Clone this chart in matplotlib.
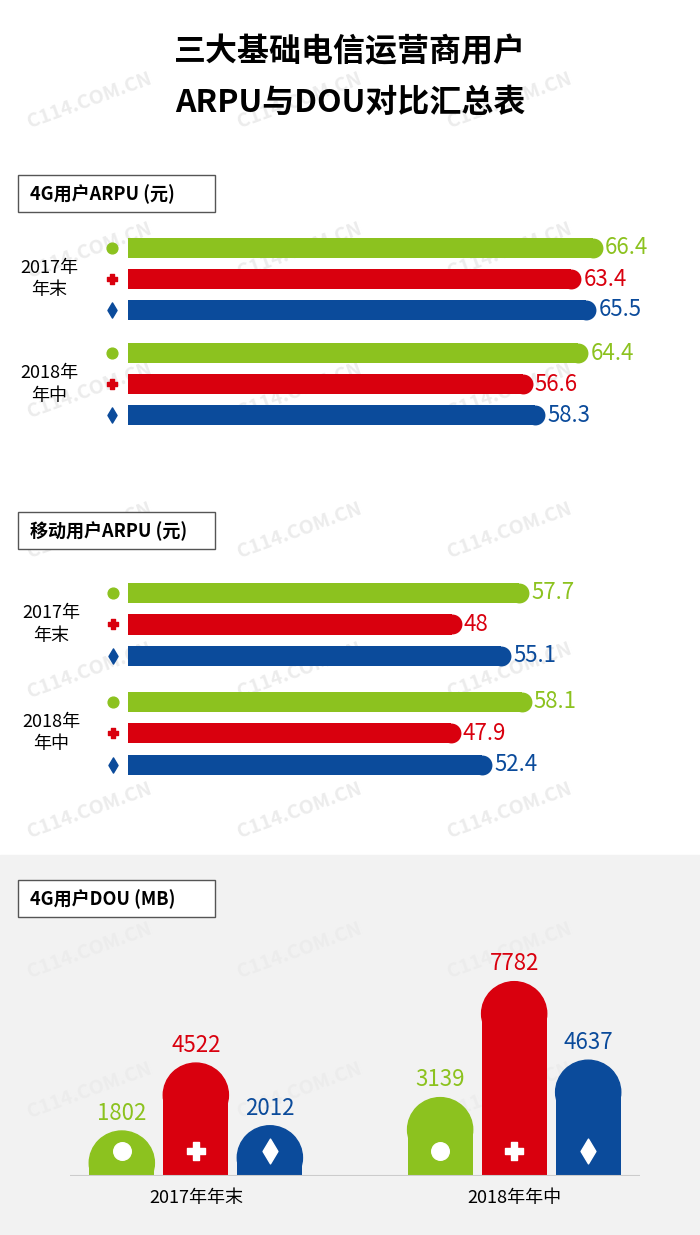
import matplotlib.pyplot as plt
from matplotlib.patches import Rectangle, Ellipse
import numpy as np

plt.rcParams['font.family'] = ['Noto Sans CJK SC', 'DejaVu Sans']

W, H = 700, 1235
green, red, blue = "#8cc21f", "#d9000e", "#0b4b9b"
colors = [green, red, blue]
markers = ["o", "P", "d"]

periods = ["2017年\n年末", "2018年\n年中"]
arpu_4g = [[66.4, 63.4, 65.5], [64.4, 56.6, 58.3]]
arpu_mobile = [[57.7, 48, 55.1], [58.1, 47.9, 52.4]]
dou_periods = ["2017年年末", "2018年年中"]
dou_4g = [[1802, 4522, 2012], [3139, 7782, 4637]]

fig = plt.figure(figsize=(W / 100, H / 100), dpi=100)


def fax(x0, y0, x1, y1):
    # pixel box -> axes
    return fig.add_axes([x0 / W, 1 - y1 / H, (x1 - x0) / W, (y1 - y0) / H])


# grey background of the DOU section
fig.patches.append(Rectangle((0, 0), 1, 1 - 855 / H, transform=fig.transFigure,
                             color="#f2f2f2", zorder=-5))

# watermarks
for yy in [100, 250, 390, 530, 670, 810, 950, 1090]:
    for xx in [90, 300, 510]:
        fig.text(xx / W, 1 - yy / H, "C114.COM.CN", rotation=20, fontsize=14,
                 color="#ececec", ha="center", va="center", zorder=-1,
                 fontweight="bold")

fig.text(0.5, 1 - 52 / H, "三大基础电信运营商用户", ha="center", va="center",
         fontsize=23, fontweight="bold")
fig.text(0.5, 1 - 103 / H, "ARPU与DOU对比汇总表", ha="center", va="center",
         fontsize=23, fontweight="bold")


def label_box(y0, text):
    fig.patches.append(Rectangle((18 / W, 1 - (y0 + 37) / H), 197 / W, 37 / H,
                                 transform=fig.transFigure, facecolor="white",
                                 edgecolor="#555555", lw=1))
    fig.text(30 / W, 1 - (y0 + 19) / H, text, va="center", fontsize=13,
             fontweight="bold")


def hbar_section(box, vals, gap, scale, y_first, spacing):
    ax = fax(*box)
    x0, y0, x1, y1 = box
    ax.set_xlim(0, (x1 - x0) / scale)
    top = (y0 - y_first) / spacing
    bot = (y1 - y_first) / spacing
    ax.set_ylim(bot, top)
    ax.axis("off")
    ax.axvline(-0.3, color="#dddddd", lw=1.5)
    r = 10 / scale
    for g, grp in enumerate(vals):
        for i, v in enumerate(grp):
            y = g * gap + i
            ax.barh(y, v - r, height=0.64, color=colors[i])
            ax.scatter(v - r, y, s=205, color=colors[i], zorder=3, linewidths=0)
            ax.text(v + 0.3, y, str(v), va="center", fontsize=16, color=colors[i])
            ax.scatter(-2.2, y, marker=markers[i], s=60, color=colors[i], clip_on=False)
        ax.text(-11, g * gap + 1, periods[g], va="center", ha="center",
                fontsize=13, linespacing=1.3)
    return ax


label_box(175, "4G用户ARPU (元)")
hbar_section((128, 228, 690, 470), arpu_4g, 3.4, 7.15, 248, 31)

label_box(512, "移动用户ARPU (元)")
hbar_section((128, 575, 690, 780), arpu_mobile, 3.45, 6.95, 593, 31.5)

label_box(880, "4G用户DOU (MB)")
ax = fax(70, 940, 640, 1176)
ax.set_xlim(-0.7, 7.0)
ax.set_ylim(0, 9450)
ax.axis("off")
ax.axhline(0, color="#cccccc", lw=1.5)
px_y = (1176 - 940) / 9450
r_y = 32 / px_y
w = 0.88
for g, grp in enumerate(dou_4g):
    for i, v in enumerate(grp):
        x = g * 4.3 + i
        body = max(v - r_y, 0)
        ax.bar(x, body, width=w, color=colors[i])
        ax.add_patch(Ellipse((x, body), w, 2 * r_y, color=colors[i]))
        ax.text(x, v + 250, str(v), ha="center", va="bottom", fontsize=16,
                color=colors[i])
        ax.scatter(x, 1000, marker=markers[i], s=160, color="white", zorder=4)
    ax.text(g * 4.3 + 1, -900, dou_periods[g], ha="center", va="center",
            fontsize=13)

fig.savefig("out.png", dpi=100)
